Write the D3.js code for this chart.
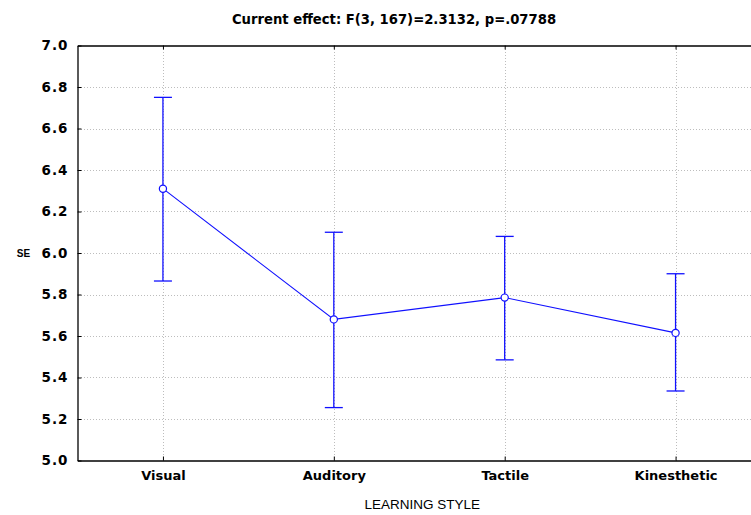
<!DOCTYPE html>
<html>
<head>
<meta charset="utf-8">
<script src="https://cdn.jsdelivr.net/npm/d3@7"></script>
<style>
  html, body { margin: 0; padding: 0; background: #fff; }
  svg { display: block; }
</style>
</head>
<body>
<div id="chart"></div>
<script>
// ---- data ----
const categories = ["Visual", "Auditory", "Tactile", "Kinesthetic"];
const means = [6.31, 5.68, 5.785, 5.615];
const lower = [5.865, 5.255, 5.485, 5.335];
const upper = [6.75, 6.10, 6.08, 5.90];
const yTicks = [5.0, 5.2, 5.4, 5.6, 5.8, 6.0, 6.2, 6.4, 6.6, 6.8, 7.0];
const titleText = "Current effect: F(3, 167)=2.3132, p=.07788";
const xTitle = "LEARNING STYLE";
const yTitle = "SE";

(function () {
// ---- layout ----
const W = 751, H = 515;
const pL = 77.5, pT = 45.5, pB = 460.5, pR = 761;
const blue = "#1010ff";
const boldFont = "'DejaVu Sans', sans-serif";
const plainFont = "'Liberation Sans', Arial, sans-serif";

const svg = d3.select("#chart").append("svg")
  .attr("width", W).attr("height", H);

const x = d3.scalePoint().domain(categories).range([pL, pR]).padding(0.5);
const y = d3.scaleLinear().domain([5.0, 7.0]).range([pB, pT]);

// gridlines
const grid = svg.append("g").attr("stroke", "#bdbdbd").attr("stroke-width", 1)
  .attr("stroke-dasharray", "1,2").attr("shape-rendering", "crispEdges");
grid.selectAll("line.h").data(yTicks.filter(d => d > 5.0 && d < 7.0)).join("line")
  .attr("class", "h")
  .attr("x1", pL).attr("x2", pR)
  .attr("y1", d => Math.round(y(d)) + 0.5).attr("y2", d => Math.round(y(d)) + 0.5);
grid.selectAll("line.v").data(categories).join("line")
  .attr("class", "v")
  .attr("y1", pT).attr("y2", pB)
  .attr("x1", d => Math.round(x(d)) + 0.5).attr("x2", d => Math.round(x(d)) + 0.5);

// axes
const yAxis = d3.axisLeft(y).tickValues(yTicks).tickFormat(d3.format(".1f"))
  .tickSizeInner(-4).tickSizeOuter(0).tickPadding(9);
const gy = svg.append("g").attr("transform", `translate(${pL},0)`).call(yAxis);
gy.select(".domain").attr("stroke", "#000").attr("stroke-width", 1.3);
gy.selectAll(".tick line").attr("stroke", "#000");
gy.selectAll("text").attr("font-family", boldFont).attr("font-weight", "bold")
  .attr("font-size", 13.5).attr("letter-spacing", 1).attr("fill", "#000");

const xAxis = d3.axisBottom(x).tickSizeInner(-4).tickSizeOuter(0).tickPadding(10);
const gx = svg.append("g").attr("transform", `translate(0,${pB})`).call(xAxis);
gx.select(".domain").attr("stroke", "#000").attr("stroke-width", 1.3);
gx.selectAll(".tick line").attr("stroke", "#000");
gx.selectAll("text").attr("font-family", boldFont).attr("font-weight", "bold")
  .attr("font-size", 13).attr("fill", "#000");

const xTop = d3.axisTop(x).tickSizeInner(-4).tickSizeOuter(0).tickFormat("");
const gt = svg.append("g").attr("transform", `translate(0,${pT})`).call(xTop);
gt.select(".domain").attr("stroke", "#000").attr("stroke-width", 1.3);
gt.selectAll(".tick line").attr("stroke", "#000");

// titles
svg.append("text").attr("x", 394).attr("y", 24).attr("text-anchor", "middle")
  .attr("font-family", boldFont).attr("font-weight", "bold").attr("font-size", 13.2)
  .text(titleText);
svg.append("text").attr("x", (pL + pR) / 2 + 3).attr("y", 509).attr("text-anchor", "middle")
  .attr("font-family", plainFont).attr("font-size", 13.5)
  .text(xTitle);
svg.append("text").attr("x", 23.5).attr("y", y(6.0) + 4).attr("text-anchor", "middle")
  .attr("font-family", plainFont).attr("font-weight", "bold").attr("font-size", 10)
  .text(yTitle);

// error bars
const eb = svg.append("g").attr("stroke", blue).attr("stroke-width", 1.3);
categories.forEach((c, i) => {
  const cx = x(c);
  eb.append("line").attr("x1", cx).attr("x2", cx).attr("y1", y(lower[i])).attr("y2", y(upper[i]));
  eb.append("line").attr("x1", cx - 9).attr("x2", cx + 9).attr("y1", y(lower[i])).attr("y2", y(lower[i]));
  eb.append("line").attr("x1", cx - 9).attr("x2", cx + 9).attr("y1", y(upper[i])).attr("y2", y(upper[i]));
});

// mean line
const line = d3.line().x((d, i) => x(categories[i])).y(d => y(d));
svg.append("path").datum(means).attr("d", line)
  .attr("fill", "none").attr("stroke", blue).attr("stroke-width", 1.1);

svg.append("g").selectAll("circle").data(means).join("circle")
  .attr("cx", (d, i) => x(categories[i])).attr("cy", d => y(d)).attr("r", 3.6)
  .attr("fill", "#fff").attr("stroke", blue).attr("stroke-width", 1.2);
})();
</script>
</body>
</html>
